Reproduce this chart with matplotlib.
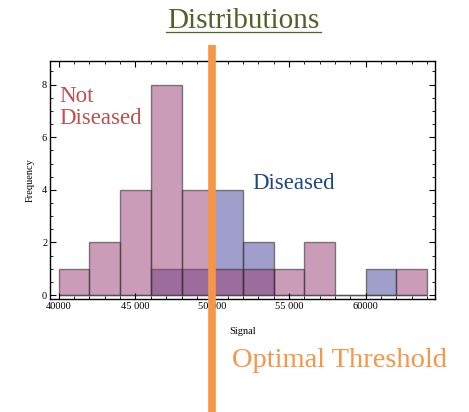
import numpy as np
import matplotlib
matplotlib.use('Agg')
import matplotlib.pyplot as plt
from matplotlib.ticker import MultipleLocator
from matplotlib.transforms import blended_transform_factory

# 数据：直方图各箱的左边界与计数
bin_edges = [40000, 42000, 44000, 46000, 48000, 50000, 52000, 54000, 56000, 58000, 60000, 62000, 64000]
not_diseased = [1, 2, 4, 8, 4, 1, 1, 1, 2, 0, 0, 1]
diseased = [0, 0, 0, 1, 1, 4, 2, 0, 0, 0, 1, 0]
threshold = 50000

left = np.array(bin_edges[:-1])
width = np.diff(bin_edges)

fig = plt.figure(figsize=(4.69, 4.12), dpi=100)
ax = fig.add_axes([0.1066, 0.2743, 0.8209, 0.5777])

edge = (0.2, 0.2, 0.2, 0.6)
ax.bar(left, diseased, width=width, align='edge', color=(0.263, 0.247, 0.592, 0.5),
       edgecolor=edge, linewidth=1.0)
ax.bar(left, not_diseased, width=width, align='edge', color=(0.60, 0.23, 0.44, 0.5),
       edgecolor=edge, linewidth=1.0)

ax.set_xlim(39430, 64515)
ax.set_ylim(-0.15, 8.9)
ax.xaxis.set_major_locator(MultipleLocator(5000))
ax.xaxis.set_minor_locator(MultipleLocator(1000))
ax.yaxis.set_major_locator(MultipleLocator(2))
ax.yaxis.set_minor_locator(MultipleLocator(0.5))
ax.set_xticks([40000, 45000, 50000, 55000, 60000])
ax.set_xticklabels(['40000', '45 000', '50 000', '55 000', '60000'])
ax.tick_params(which='both', direction='in', top=True, right=True,
               labelsize=7.5, pad=2)
ax.tick_params(which='major', length=4, width=0.8)
ax.tick_params(which='minor', length=2, width=0.6)
for lab in ax.get_xticklabels() + ax.get_yticklabels():
    lab.set_family('Liberation Serif')
for s in ax.spines.values():
    s.set_linewidth(1.0)

ax.set_xlabel('Signal', family='Liberation Serif', fontsize=7.5, labelpad=12)
ax.set_ylabel('Frequency', family='Liberation Serif', fontsize=7.5, labelpad=5)

# 文字标注
ax.text(0.024, 0.895, 'Not\nDiseased', transform=ax.transAxes, color='#C0504D',
        family='Liberation Serif', fontsize=16.5, va='top', ha='left', linespacing=1.05)
ax.text(0.525, 0.487, 'Diseased', transform=ax.transAxes, color='#1F497D',
        family='Liberation Serif', fontsize=16.5, va='center', ha='left')

# 标题（带下划线）
fig.text(0.518, 0.948, 'Distributions', color='#4F6228', family='Liberation Serif',
         fontsize=21, ha='center', va='center')
fig.add_artist(plt.Line2D([166 / 469, 321 / 469], [1 - 32 / 412, 1 - 32 / 412],
                          color='#4F6228', linewidth=0.9))

fig.text(0.495, 0.125, 'Optimal Threshold', color='#F79646', family='Liberation Serif',
         fontsize=20.5, ha='left', va='center')

# 最优阈值竖线
trans = blended_transform_factory(ax.transData, fig.transFigure)
ax.plot([threshold, threshold], [0.0, 1 - 45 / 412], color='#F79646', linewidth=5.5,
        transform=trans, clip_on=False, zorder=10, solid_capstyle='butt')

fig.savefig('out.png', dpi=100)
